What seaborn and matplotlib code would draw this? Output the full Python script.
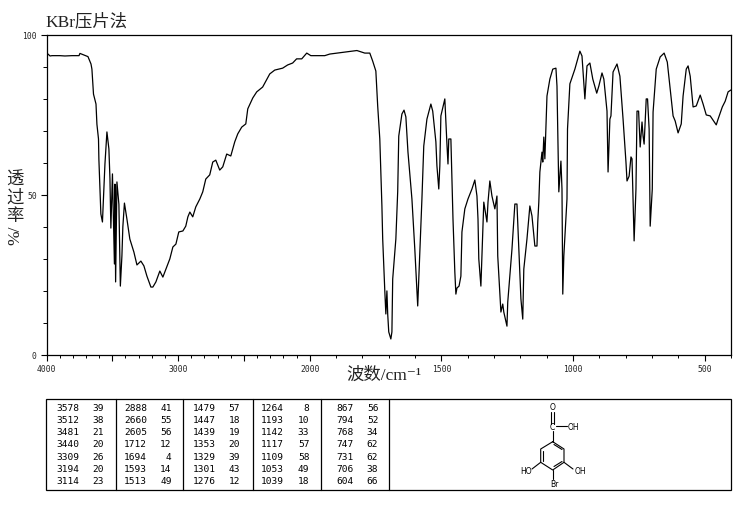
#! /usr/bin/env python3

import numpy as np
import matplotlib as mpl
mpl.use('agg')
import matplotlib.pyplot as plt
import seaborn as sns

sns.set_theme(context='notebook', style='ticks')
plt.rcParams['font.family'] = ['Liberation Serif', 'Noto Sans CJK SC', 'DejaVu Sans']

# --- spectrum, wavenumber [cm-1] and transmittance [%]
wavenumber = [3998, 3989, 3973, 3958, 3898, 3860, 3807, 3753, 3746, 3715, 3685, 3662, 3655, 3643, 3624,
              3617, 3605, 3602, 3594, 3587, 3575, 3564, 3556, 3541, 3526, 3518, 3511, 3499, 3484, 3480,
              3475, 3465, 3450, 3439, 3427, 3420, 3408, 3389, 3367, 3336, 3313, 3283, 3260, 3237, 3207,
              3192, 3169, 3139, 3116, 3086, 3063, 3040, 3017, 2995, 2964, 2942, 2926, 2911, 2889, 2866,
              2835, 2813, 2790, 2760, 2737, 2714, 2684, 2661, 2631, 2600, 2570, 2547, 2517, 2486, 2471,
              2433, 2403, 2358, 2304, 2266, 2206, 2168, 2130, 2100, 2061, 2023, 1996, 1943, 1924, 1867,
              1821, 1791, 1772, 1761, 1749, 1742, 1734, 1726, 1723, 1715, 1711, 1707, 1704, 1700, 1692,
              1688, 1685, 1673, 1666, 1662, 1650, 1642, 1635, 1627, 1612, 1601, 1590, 1582, 1574, 1567,
              1555, 1540, 1533, 1521, 1517, 1510, 1506, 1502, 1487, 1479, 1475, 1472, 1464, 1456, 1449,
              1445, 1441, 1433, 1426, 1422, 1411, 1399, 1384, 1373, 1365, 1361, 1358, 1350, 1346, 1339,
              1327, 1323, 1316, 1308, 1297, 1289, 1286, 1274, 1267, 1263, 1251, 1248, 1232, 1221, 1213,
              1206, 1198, 1191, 1187, 1175, 1164, 1156, 1145, 1137, 1134, 1130, 1126, 1118, 1115, 1111,
              1107, 1099, 1088, 1077, 1065, 1061, 1058, 1054, 1046, 1042, 1039, 1035, 1023, 1021, 1012,
              993, 974, 966, 955, 947, 936, 925, 910, 902, 890, 883, 871, 867, 860, 856,
              848, 833, 822, 810, 799, 795, 787, 780, 776, 768, 761, 757, 751, 745, 738,
              734, 730, 722, 717, 711, 707, 699, 696, 684, 669, 654, 642, 631, 620, 612,
              601, 589, 582, 570, 563, 555, 544, 532, 517, 506, 494, 479, 456, 449, 433,
              422, 411, 400]
transmittance = [94.2, 93.9, 93.3, 93.4, 93.4, 93.3, 93.4, 93.4, 94.1, 93.6, 93.1, 90.8, 89.2, 81.4, 78.3,
                 72.0, 67.4, 61.0, 52.0, 44.0, 41.5, 52.0, 59.6, 69.6, 64.3, 55.0, 39.6, 56.5, 28.4, 53.3,
                 22.8, 54.0, 47.0, 21.5, 31.0, 40.0, 47.4, 42.4, 36.2, 32.1, 28.1, 29.3, 27.8, 24.6, 21.2,
                 21.2, 22.8, 26.2, 24.3, 27.5, 30.0, 33.7, 34.6, 38.4, 38.7, 40.2, 43.1, 44.6, 43.1, 46.2,
                 48.7, 50.9, 54.9, 56.2, 60.2, 60.8, 57.7, 58.7, 62.7, 62.1, 66.5, 69.0, 71.1, 72.1, 76.8,
                 80.2, 82.1, 83.6, 87.7, 88.9, 89.5, 90.5, 91.1, 92.4, 92.4, 94.2, 93.4, 93.4, 93.9, 94.5,
                 95.0, 94.2, 94.2, 91.7, 88.6, 77.7, 67.4, 46.5, 36.2, 20.0, 12.8, 20.0, 12.8, 7.2, 5.0,
                 7.2, 23.7, 36.2, 51.0, 68.3, 75.2, 76.4, 74.3, 63.3, 48.7, 33.0, 15.3, 32.1, 48.7, 65.2,
                 73.6, 78.3, 76.1, 66.5, 59.0, 51.8, 59.0, 74.6, 79.9, 65.8, 59.6, 67.4, 67.4, 42.4, 25.9,
                 19.0, 20.9, 21.5, 24.6, 38.4, 45.6, 48.7, 51.8, 54.6, 49.6, 42.4, 30.0, 21.5, 30.9, 47.7,
                 41.5, 47.7, 54.3, 49.6, 45.6, 49.6, 30.9, 13.4, 15.9, 13.4, 9.0, 16.5, 33.0, 47.1, 47.1,
                 33.0, 17.5, 11.2, 26.8, 36.2, 46.5, 43.4, 34.0, 34.0, 41.5, 47.7, 57.1, 63.3, 60.2, 68.0,
                 61.2, 80.8, 86.1, 89.2, 89.5, 83.9, 70.5, 50.9, 60.5, 51.8, 19.0, 30.9, 48.7, 70.5, 84.6,
                 89.2, 94.8, 93.3, 79.9, 90.2, 91.1, 86.1, 81.7, 83.9, 88.0, 86.1, 76.1, 57.1, 73.6, 74.6,
                 88.3, 90.8, 87.0, 73.6, 60.2, 54.3, 55.8, 61.8, 61.2, 35.6, 51.8, 76.1, 76.1, 64.9, 72.7,
                 68.3, 65.8, 79.9, 79.9, 70.5, 40.2, 51.8, 75.8, 89.2, 93.0, 94.2, 91.4, 83.0, 74.6, 73.0,
                 69.3, 72.1, 80.8, 89.2, 90.2, 87.0, 77.4, 77.7, 81.1, 78.3, 74.9, 74.6, 71.8, 73.6, 77.4,
                 79.2, 82.1, 82.7]

# --- peak table, five blocks of wavenumber / transmittance
peak_wn = [[3578, 3512, 3481, 3440, 3309, 3194, 3114],
           [2888, 2660, 2605, 1712, 1694, 1593, 1513],
           [1479, 1447, 1439, 1353, 1329, 1301, 1276],
           [1264, 1193, 1142, 1117, 1109, 1053, 1039],
           [867, 794, 768, 747, 731, 706, 604]]
peak_t = [[39, 38, 21, 20, 26, 20, 23],
          [41, 55, 56, 12, 4, 14, 49],
          [57, 18, 19, 20, 39, 43, 12],
          [8, 10, 33, 57, 58, 49, 18],
          [56, 52, 34, 62, 62, 38, 66]]

x_major = [4000, 3500, 3000, 2500, 2000, 1500, 1000, 500]
x_labels = ['4000', '', '3000', '', '2000', '1500', '1000', '500']
y_major = [0, 50, 100]
y_labels = ['0', '50', '100']


# --- the x axis is compressed by 2 above 2000 cm-1
def forward(w):
    w = np.asarray(w, dtype=float)
    return np.where(w <= 2000, w, 2000 + (w - 2000) / 2)


def inverse(v):
    v = np.asarray(v, dtype=float)
    return np.where(v <= 2000, v, 2000 + (v - 2000) * 2)


W, H = 737, 510
MONO = 'DejaVu Sans Mono'

fig = plt.figure(figsize=(W / 100, H / 100), dpi=100, facecolor='white')
ax = fig.add_axes([46.5 / W, 1 - 356 / H, (731 - 46.5) / W, (356 - 35.5) / H])

sns.lineplot(x=wavenumber, y=transmittance, sort=False, estimator=None,
             color='black', linewidth=0.9, ax=ax)

ax.set_xscale('function', functions=(forward, inverse))
ax.set_xlim(4000, 400)
ax.set_ylim(0, 100)
ax.set_xticks(x_major)
ax.set_xticklabels(x_labels, family=MONO, fontsize=5.8)
ax.set_xticks(np.arange(400, 4000, 100), minor=True)
ax.set_yticks(y_major)
ax.set_yticklabels(y_labels, family=MONO, fontsize=5.8)
ax.set_yticks(np.arange(0, 101, 10), minor=True)
ax.tick_params(axis='x', which='major', length=4.5, width=0.8, color='black', pad=2)
ax.tick_params(axis='x', which='minor', length=2, width=0.7, color='black')
ax.tick_params(axis='y', which='major', length=4, width=0.8, color='black', pad=3)
ax.tick_params(axis='y', which='minor', length=3, width=0.7, color='black')
for side in ax.spines.values():
    side.set_visible(True)
    side.set_linewidth(0.9)
    side.set_color('black')

# --- overlay in pixel units for the texts, the table and the structure
over = fig.add_axes([0, 0, 1, 1])
over.set_xlim(0, W)
over.set_ylim(H, 0)
over.axis('off')
over.patch.set_alpha(0)

over.text(45, 22, 'KBr压片法', fontsize=12.5, color='#222222', ha='left', va='center')
for txt, y in zip('透过率', [181, 199, 217]):
    over.text(15, y, txt, fontsize=12.5, color='#222222', ha='center', va='center')
over.text(15, 235, '%/', fontsize=12.5, color='#222222', rotation=90, ha='center', va='center')
over.text(384, 376, '波数/cm⁻¹', fontsize=12.5, color='#222222', ha='center', va='center')

# --- table frame
over.add_patch(plt.Rectangle((46.5, 399.5), 684.5, 91.5, fill=False, ec='black', lw=0.9))
for x in [115.7, 183.5, 252.7, 320.7, 389.5]:
    over.plot([x, x], [399.5, 491], color='black', lw=0.9)

row_y = [408.7, 420.8, 433, 445, 457.3, 469.6, 482]
wn_x = [79.3, 147.3, 215.7, 284.3, 353.3]
t_x = [104, 171.7, 240, 309.3, 378.3]
for b in range(5):
    for r in range(7):
        over.text(wn_x[b], row_y[r], str(peak_wn[b][r]), family=MONO, fontsize=6.8,
                  ha='right', va='center', color='black')
        over.text(t_x[b], row_y[r], str(peak_t[b][r]), family=MONO, fontsize=6.8,
                  ha='right', va='center', color='black')

# --- structure
ring_x = [552.7, 564, 564, 552.7, 540.7, 540.7, 552.7]
ring_y = [442.7, 450, 463.3, 471, 463.3, 450, 442.7]
over.plot(ring_x, ring_y, color='black', lw=0.8)
bonds = [((552.7, 552.7), (431.5, 442.7)),
         ((556, 567), (427.3, 427.3)),
         ((540.7, 532), (463.3, 470)),
         ((564, 573), (463.3, 470)),
         ((552.7, 552.7), (471, 480)),
         ((551.5, 551.5), (413, 425)),
         ((553.7, 553.7), (413, 425)),
         ((543, 543), (452, 461.5)),
         ((554, 562), (445.5, 450.5)),
         ((554, 562), (467.5, 462.5))]
for bx, by in bonds:
    over.plot(bx, by, color='black', lw=0.8)
for (tx, ty, txt) in [(552.7, 408, 'O'), (552.7, 427.3, 'C'), (573.5, 427.3, 'OH'),
                      (526, 472, 'HO'), (580, 472, 'OH'), (554, 484.5, 'Br')]:
    over.text(tx, ty, txt, family='DejaVu Sans', fontsize=5.5, ha='center', va='center', color='black')

fig.savefig('out.png', dpi=100)
plt.close(fig)
